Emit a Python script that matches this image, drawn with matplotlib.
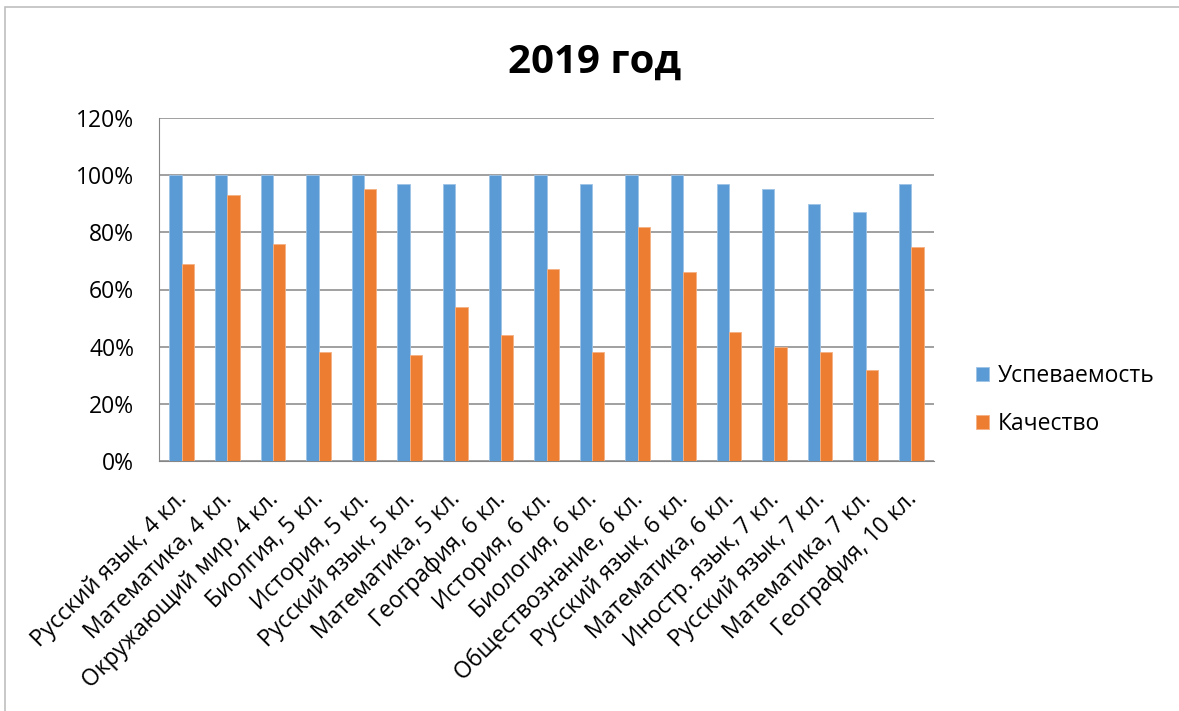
import numpy as np
import matplotlib.pyplot as plt
from matplotlib.patches import Rectangle
from matplotlib.transforms import ScaledTranslation

plt.rcParams['font.family'] = ['Open Sans', 'DejaVu Sans']

subjects = ["Русский язык, 4 кл.", "Математика, 4 кл.", "Окружающий мир, 4 кл.",
            "Биолгия, 5 кл.", "История, 5 кл.", "Русский язык, 5 кл.",
            "Математика, 5 кл.", "География, 6 кл.", "История, 6 кл.",
            "Биология, 6 кл.", "Обществознание, 6 кл.", "Русский язык, 6 кл.",
            "Математика, 6 кл.", "Иностр. язык, 7 кл.", "Русский язык, 7 кл.",
            "Математика, 7 кл.", "География, 10 кл."]
uspevaemost = [100, 100, 100, 100, 100, 97, 97, 100, 100, 97, 100, 100, 97, 95, 90, 87, 97]
kachestvo = [69, 93, 76, 38, 95, 37, 54, 44, 67, 38, 82, 66, 45, 40, 38, 32, 75]

blue = '#5B9BD5'
orange = '#ED7D31'

fig = plt.figure(figsize=(11.79, 7.11), dpi=100)
ax = fig.add_axes([159 / 1179, 1 - 461 / 711, (934 - 159) / 1179, (461 - 118) / 711])

x = np.arange(len(subjects))
w = 0.27
ax.bar(x - w / 2, uspevaemost, w, color=blue, edgecolor='#9DC3E6', linewidth=0.6,
       label='Успеваемость', zorder=3)
ax.bar(x + w / 2, kachestvo, w, color=orange, edgecolor='#F4B183', linewidth=0.6,
       label='Качество', zorder=3)

ax.set_xlim(-0.5, len(subjects) - 0.5)
ax.set_ylim(0, 120)
ax.set_yticks(range(0, 121, 20))
ax.set_yticklabels([f'{v}%' for v in range(0, 121, 20)], fontsize=16.5)
ax.yaxis.grid(True, color='#868686', linewidth=1.1, zorder=0)
ax.set_xticks(x)
ax.set_xticklabels(subjects, rotation=45, ha='right', va='baseline',
                   rotation_mode='anchor', fontsize=16.5)
ax.tick_params(axis='y', length=0, pad=18)
ax.tick_params(axis='x', length=0, pad=0)
# Excel-like offset of the rotated category labels
shift = ScaledTranslation(0.06, -0.39, fig.dpi_scale_trans)
for lab in ax.get_xticklabels():
    lab.set_transform(lab.get_transform() + shift)
for s in ['top', 'right']:
    ax.spines[s].set_visible(False)
ax.spines['left'].set_color('#868686')
ax.spines['bottom'].set_color('#868686')

fig.text(595 / 1179, 1 - 62 / 711, '2019 год', ha='center', va='center',
         fontsize=29, fontweight='bold')

ax.legend(loc='center left', bbox_to_anchor=(955 / 1179, 1 - 400 / 711),
          bbox_transform=fig.transFigure, frameon=False, fontsize=16.5,
          handlelength=0.6, handleheight=0.6, handletextpad=0.35, labelspacing=1.05)

# chart frame (top and left edges visible)
fig.patches.append(Rectangle((5 / 1179, -0.05), 1.1, 1 - 7 / 711 + 0.05,
                             transform=fig.transFigure, fill=False,
                             edgecolor='#BFBFBF', linewidth=1.2))

fig.savefig('out.png', dpi=100)
